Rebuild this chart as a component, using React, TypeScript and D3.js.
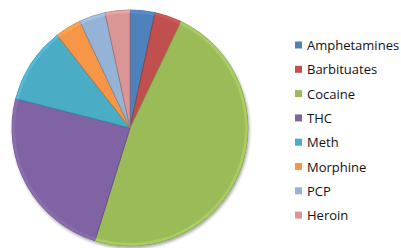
import React from 'react';
import { arc, pie, color } from 'd3';

const drugs = ['Amphetamines', 'Barbituates', 'Cocaine', 'THC', 'Meth', 'Morphine', 'PCP', 'Heroin'];
const shares = [3.4, 3.7, 47.7, 24.2, 10.4, 3.6, 3.6, 3.4];
const palette = ['#4F81BD', '#C0504D', '#9BBB59', '#8064A2', '#4BACC6', '#F79646', '#95B3D7', '#D99694'];

const cx = 130;
const cy = 128;
const radius = 118;

function App() {
    const slices = pie<number>().sort(null).value(d => d)(shares);
    const arcFn = arc<any>().innerRadius(0).outerRadius(radius);
    const rimFn = arc<any>().innerRadius(radius - 3).outerRadius(radius);

    return (
        <svg width={401} height={248} style={{ position: 'absolute', left: 0, top: 0 }}>
            <defs>
                <filter id="shadow" x="-10%" y="-10%" width="120%" height="120%">
                    <feGaussianBlur in="SourceAlpha" stdDeviation="1.5" />
                    <feOffset dx="1" dy="2" result="b" />
                    <feComponentTransfer><feFuncA type="linear" slope="0.35" /></feComponentTransfer>
                    <feMerge><feMergeNode /><feMergeNode in="SourceGraphic" /></feMerge>
                </filter>
            </defs>
            <g transform={`translate(${cx},${cy})`} filter="url(#shadow)">
                {slices.map((s, i) => (
                    <path key={drugs[i]} d={arcFn(s) as string} fill={palette[i]}
                        stroke={color(palette[i])!.darker(0.8).toString()} strokeWidth={0.8} />
                ))}
                {slices.map((s, i) => (
                    <path key={'rim' + i} d={rimFn(s) as string} fill={color(palette[i])!.brighter(0.4).toString()} opacity={0.6} />
                ))}
            </g>
            <g fontFamily="'Open Sans', sans-serif" fontSize={13} fill="#111">
                {drugs.map((d, i) => (
                    <g key={d} transform={`translate(295,${45 + i * 24.3})`}>
                        <rect x={0} y={-3.5} width={7} height={7} fill={palette[i]} />
                        <text x={12} y={0} dominantBaseline="central">{d}</text>
                    </g>
                ))}
            </g>
        </svg>
    );
}

export default App;
